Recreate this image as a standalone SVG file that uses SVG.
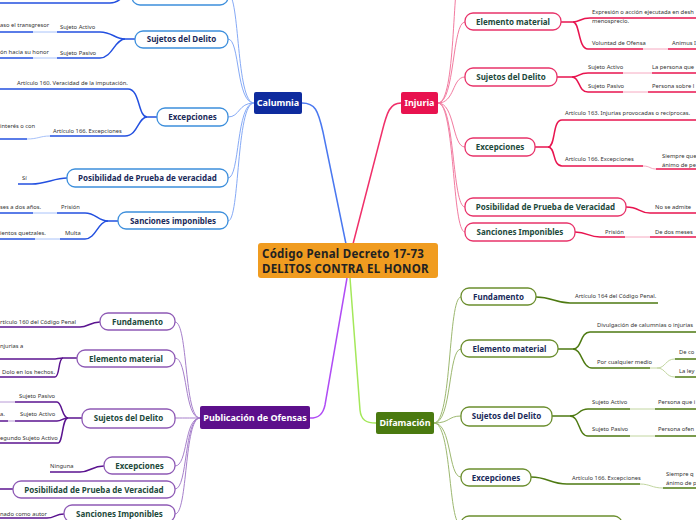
<svg xmlns="http://www.w3.org/2000/svg" width="696" height="520" viewBox="0 0 696 520">
<style>
.leaf{font-family:"Noto Sans","Liberation Sans",sans-serif;font-size:5.8px;fill:#333}
.sub{font-family:"Noto Sans","Liberation Sans",sans-serif;font-size:8px;font-weight:bold;text-anchor:middle}
.main{font-family:"Noto Sans","Liberation Sans",sans-serif;font-size:9px;font-weight:bold;fill:#fff;text-anchor:middle}
.ctr{font-family:"Noto Sans","Liberation Sans",sans-serif;font-size:11.5px;font-weight:bold;fill:#222;letter-spacing:0.25px}
.c{fill:none}
.bl{stroke:#4A78F0;stroke-width:1.5}
.bls{stroke:#86AAF6;stroke-width:1}
.bld{stroke:#2350E0;stroke-width:1.5}
.bll{stroke:#A8C2FA;stroke-width:1}
.pk{stroke:#F0306A;stroke-width:1.5}
.pks{stroke:#F27BA0;stroke-width:1}
.pkd{stroke:#E8144F;stroke-width:1.5}
.pkl{stroke:#F6A8C0;stroke-width:1}
.pu{stroke:#B04CF5;stroke-width:1.5}
.pus{stroke:#A67FCB;stroke-width:1}
.pud{stroke:#5B1490;stroke-width:1.5}
.pul{stroke:#B89AD6;stroke-width:1}
.gr{stroke:#A4E85A;stroke-width:1.5}
.grs{stroke:#9DB870;stroke-width:1}
.grd{stroke:#4E7A12;stroke-width:1.5}
.grl{stroke:#C2D6A0;stroke-width:1}
.sb{fill:#fff;stroke:#3D8FDC;stroke-width:1.3}
.sp{fill:#fff;stroke:#E8336A;stroke-width:1.3}
.sv{fill:#fff;stroke:#8E5AB5;stroke-width:1.3}
.sg{fill:#fff;stroke:#6B8E2E;stroke-width:1.3}
.tn{fill:#1A2A5A}
.tg{fill:#1D4A3C}
</style>
<g id="connectors" class="c">
<path class="bl" d="M346,244 L323,132 C318,110 315,103 302,103"/>
<path class="pk" d="M353,244 L382,132 C387,112 390,103 401,103"/>
<path class="pu" d="M347,278 L325,405 C323,415 318,418 310,418"/>
<path class="gr" d="M350,278 L360,410 C361,420 366,423 376,423"/>
<path class="bls" d="M254,103 C236,103 240,-6 228,-6"/>
<path class="bls" d="M254,103 C236,103 240,39 228,39"/>
<path class="bls" d="M254,103 C238,103 240,117 228,117"/>
<path class="bls" d="M254,103 C236,103 240,178 228,178"/>
<path class="bls" d="M254,103 C236,103 240,221 228,221"/>
<path class="bld" d="M132,-6 C120,-6 122,3 110,3 L0,3"/>
<path class="bld" d="M135,39 L125,39 C115,39 112,32 100,32 L57,32"/>
<path class="bll" d="M57,32 L33,32"/>
<path class="bld" d="M33,32 L0,32"/>
<path class="bld" d="M125,39 C115,39 112,58 100,58 L57,58"/>
<path class="bll" d="M57,58 L33,58"/>
<path class="bld" d="M33,58 L0,58"/>
<path class="bld" d="M157,117 L147,117 C138,117 140,89 128,89 L0,89"/>
<path class="bld" d="M147,117 C138,117 138,136 125,136 L50,136"/>
<path class="bll" d="M50,136 C40,136 38,139 27,139"/>
<path class="bld" d="M27,139 L0,139"/>
<path class="bld" d="M67,178 C55,178 45,184 32,184 L18,184"/>
<path class="bld" d="M118,221 L108,221 C98,221 96,213 85,213 L57,213"/>
<path class="bll" d="M57,213 L33,213"/>
<path class="bld" d="M33,213 L0,213"/>
<path class="bld" d="M108,221 C98,221 96,239 85,239 L60,239"/>
<path class="bll" d="M60,239 L35,239"/>
<path class="bld" d="M35,239 L0,239"/>
<path class="pks" d="M438,103 C456,103 452,-20 460,-30"/>
<path class="pks" d="M438,103 C455,103 452,22 465,22"/>
<path class="pks" d="M438,103 C455,103 452,77 465,77"/>
<path class="pks" d="M438,103 C455,103 452,147 465,147"/>
<path class="pks" d="M438,103 C455,103 452,207 465,207"/>
<path class="pks" d="M438,103 C455,103 452,232 465,232"/>
<path class="pkd" d="M561,22 L573,22 C580,22 580,18 590,18 L696,18"/>
<path class="pkd" d="M573,22 C580,22 578,49 588,49 L643,49"/>
<path class="pkl" d="M643,49 L668,49"/>
<path class="pkd" d="M668,49 L696,49"/>
<path class="pkd" d="M557,77 L572,77 C580,77 578,73 588,73 L623,73"/>
<path class="pkl" d="M623,73 L652,73"/>
<path class="pkd" d="M652,73 L696,73"/>
<path class="pkd" d="M572,77 C580,77 578,92 588,92 L623,92"/>
<path class="pkl" d="M623,92 L648,92"/>
<path class="pkd" d="M648,92 L696,92"/>
<path class="pkd" d="M535,147 L548,147 C556,147 552,120 562,120 L696,120"/>
<path class="pkd" d="M548,147 C556,147 552,166 562,166 L643,166"/>
<path class="pkl" d="M643,166 C650,166 650,169 656,169"/>
<path class="pkd" d="M656,169 L696,169"/>
<path class="pkd" d="M626,207 C640,207 638,213 650,213 L696,213"/>
<path class="pkd" d="M575,232 C588,232 588,237 600,237 L625,237"/>
<path class="pkl" d="M625,237 L650,237"/>
<path class="pkd" d="M650,237 L696,237"/>
<path class="pus" d="M200,418 C184,418 188,322 175,322"/>
<path class="pus" d="M200,418 C184,418 188,358 175,358"/>
<path class="pus" d="M200,418 C186,418 188,418 175,418"/>
<path class="pus" d="M200,418 C184,418 188,466 175,466"/>
<path class="pus" d="M200,418 C184,418 188,489 175,489"/>
<path class="pus" d="M200,418 C184,418 188,514 175,514"/>
<path class="pud" d="M100,322 C90,322 88,327 80,327 L0,327"/>
<path class="pud" d="M77,358 L63,358 C58,358 58,359 52,359 L0,359"/>
<path class="pud" d="M63,358 C58,358 60,377 55,377 L0,377"/>
<path class="pud" d="M82,418 L68,418 C62,418 62,402 57,402 L15,402"/>
<path class="pul" d="M15,402 L0,402"/>
<path class="pud" d="M68,418 C62,418 62,421 57,421 L15,421"/>
<path class="pul" d="M15,421 L8,421"/>
<path class="pud" d="M8,421 L0,421"/>
<path class="pud" d="M68,418 C62,418 63,443 58,443 L0,443"/>
<path class="pud" d="M104,466 C92,466 90,472 80,472 L50,472"/>
<path class="pud" d="M13,489 L0,489"/>
<path class="pud" d="M64,514 C55,514 55,518 47,518 L0,518"/>
<path class="grs" d="M434,423 C452,423 448,297 461,297"/>
<path class="grs" d="M434,423 C452,423 448,349 461,349"/>
<path class="grs" d="M434,423 C450,423 448,416 461,416"/>
<path class="grs" d="M434,423 C452,423 448,477 461,477"/>
<path class="grs" d="M434,423 C452,423 448,525 461,525"/>
<path class="grd" d="M536,297 C552,297 555,303 570,303 L658,303"/>
<path class="grd" d="M558,349 L573,349 C582,349 580,332 590,332 L696,332"/>
<path class="grd" d="M573,349 C582,349 582,368 592,368 L650,368"/>
<path class="grl" d="M650,368 L657,368"/>
<path class="grl" d="M657,368 C666,368 665,359 675,359"/>
<path class="grl" d="M657,368 C666,368 665,377 675,377"/>
<path class="grd" d="M675,359 L696,359"/>
<path class="grd" d="M675,377 L696,377"/>
<path class="grd" d="M552,416 L570,416 C580,416 578,409 588,409 L630,409"/>
<path class="grl" d="M630,409 L655,409"/>
<path class="grd" d="M655,409 L696,409"/>
<path class="grd" d="M570,416 C580,416 578,436 588,436 L630,436"/>
<path class="grl" d="M630,436 L655,436"/>
<path class="grd" d="M655,436 L696,436"/>
<path class="grd" d="M531,477 C548,477 550,484 567,484 L640,484"/>
<path class="grl" d="M640,484 C650,484 652,488 663,488"/>
<path class="grd" d="M663,488 L696,488"/>
</g>

<g id="central">
<rect x="258" y="243" width="180" height="35" rx="3" fill="#F09C20"/>
<text class="ctr" x="262" y="258">Código Penal Decreto 17-73</text>
<text class="ctr" x="262" y="272.5">DELITOS CONTRA EL HONOR</text>
</g>

<g id="calumnia">
<rect x="254" y="92" width="48" height="22" rx="2" fill="#0E2B9E"/>
<text class="main" x="278" y="106">Calumnia</text>
</g>
<g id="injuria">
<rect x="401" y="92" width="37" height="22" rx="2" fill="#E8124F"/>
<text class="main" x="419.5" y="106">Injuria</text>
</g>
<g id="publicacion">
<rect x="200" y="406" width="110" height="23" rx="2" fill="#5C0F8B"/>
<text class="main" x="255" y="421">Publicación de Ofensas</text>
</g>
<g id="difamacion">
<rect x="376" y="412" width="58" height="22" rx="2" fill="#4A7A10"/>
<text class="main" x="405" y="426">Difamación</text>
</g>

<g id="cal-top"><rect class="sb" x="132" y="-17" width="96" height="22" rx="8"/></g>
<g id="cal-sujetos"><rect class="sb" x="135" y="31" width="93" height="17" rx="8"/><text class="sub tn" x="181.5" y="42">Sujetos del Delito</text></g>
<g id="cal-excepciones"><rect class="sb" x="157" y="108" width="71" height="18" rx="8"/><text class="sub tn" x="192.5" y="120">Excepciones</text></g>
<g id="cal-posibilidad"><rect class="sb" x="67" y="169" width="161" height="18" rx="8"/><text class="sub tn" x="147.5" y="181">Posibilidad de Prueba de veracidad</text></g>
<g id="cal-sanciones"><rect class="sb" x="118" y="212" width="110" height="17" rx="8"/><text class="sub tn" x="173" y="224">Sanciones imponibles</text></g>

<g id="cal-leaves">
<text class="leaf" x="0" y="27">aso el transgresor</text>
<text class="leaf" x="60" y="29">Sujeto Activo</text>
<text class="leaf" x="0" y="54">ón hacia su honor</text>
<text class="leaf" x="60" y="55">Sujeto Pasivo</text>
<text class="leaf" x="17" y="85">Artículo 160. Veracidad de la imputación.</text>
<text class="leaf" x="0" y="128">interés o con</text>
<text class="leaf" x="53" y="133">Artículo 166. Excepciones</text>
<text class="leaf" x="22" y="180">Sí</text>
<text class="leaf" x="0" y="209">ses a dos años.</text>
<text class="leaf" x="61" y="209">Prisión</text>
<text class="leaf" x="0" y="235">ientos quetzales.</text>
<text class="leaf" x="65" y="235">Multa</text>
</g>

<g id="inj-elemento"><rect class="sp" x="465" y="13" width="96" height="17" rx="8"/><text class="sub tg" x="513" y="25">Elemento material</text></g>
<g id="inj-sujetos"><rect class="sp" x="465" y="68" width="92" height="18" rx="8"/><text class="sub tg" x="511" y="80">Sujetos del Delito</text></g>
<g id="inj-excepciones"><rect class="sp" x="465" y="138" width="70" height="18" rx="8"/><text class="sub tg" x="500" y="150">Excepciones</text></g>
<g id="inj-posibilidad"><rect class="sp" x="465" y="198" width="161" height="18" rx="8"/><text class="sub tg" x="545.5" y="210">Posibilidad de Prueba de Veracidad</text></g>
<g id="inj-sanciones"><rect class="sp" x="465" y="223" width="110" height="18" rx="8"/><text class="sub tg" x="520" y="235">Sanciones Imponibles</text></g>

<g id="inj-leaves">
<text class="leaf" x="592" y="14">Expresión o acción ejecutada en desh</text>
<text class="leaf" x="592" y="23">menosprecio.</text>
<text class="leaf" x="592" y="45">Voluntad de Ofensa</text>
<text class="leaf" x="672" y="45">Animus I</text>
<text class="leaf" x="588" y="69">Sujeto Activo</text>
<text class="leaf" x="652" y="69">La persona que</text>
<text class="leaf" x="588" y="88">Sujeto Pasivo</text>
<text class="leaf" x="652" y="88">Persona sobre l</text>
<text class="leaf" x="565" y="115">Artículo 163. Injurias provocadas o recíprocas.</text>
<text class="leaf" x="565" y="161">Artículo 166. Excepciones</text>
<text class="leaf" x="662" y="158">Siempre que</text>
<text class="leaf" x="662" y="167">ánimo de pe</text>
<text class="leaf" x="655" y="209">No se admite</text>
<text class="leaf" x="605" y="234">Prisión</text>
<text class="leaf" x="655" y="234">De dos meses</text>
</g>

<g id="pub-fundamento"><rect class="sv" x="100" y="313" width="75" height="17" rx="8"/><text class="sub tg" x="137.5" y="325">Fundamento</text></g>
<g id="pub-elemento"><rect class="sv" x="77" y="350" width="98" height="17" rx="8"/><text class="sub tg" x="126" y="362">Elemento material</text></g>
<g id="pub-sujetos"><rect class="sv" x="82" y="409" width="93" height="19" rx="8"/><text class="sub tg" x="128.5" y="421">Sujetos del Delito</text></g>
<g id="pub-excepciones"><rect class="sv" x="104" y="457" width="71" height="17" rx="8"/><text class="sub tg" x="139.5" y="469">Excepciones</text></g>
<g id="pub-posibilidad"><rect class="sv" x="13" y="481" width="162" height="17" rx="8"/><text class="sub tg" x="94" y="493">Posibilidad de Prueba de Veracidad</text></g>
<g id="pub-sanciones"><rect class="sv" x="64" y="505" width="111" height="17" rx="8"/><text class="sub tg" x="119.5" y="517">Sanciones Imponibles</text></g>

<g id="pub-leaves">
<text class="leaf" x="0" y="324">rtículo 160 del Código Penal</text>
<text class="leaf" x="0" y="348">njurias a</text>
<text class="leaf" x="2" y="374">Dolo en los hechos.</text>
<text class="leaf" x="19" y="398">Sujeto Pasivo</text>
<text class="leaf" x="0" y="416">a.</text>
<text class="leaf" x="20" y="416">Sujeto Activo</text>
<text class="leaf" x="0" y="440">egundo Sujeto Activo</text>
<text class="leaf" x="50" y="468">Ninguna</text>
<text class="leaf" x="0" y="516">nado como autor</text>
</g>

<g id="dif-fundamento"><rect class="sg" x="461" y="288" width="75" height="17" rx="8"/><text class="sub tn" x="498.5" y="300">Fundamento</text></g>
<g id="dif-elemento"><rect class="sg" x="461" y="340" width="97" height="17" rx="8"/><text class="sub tn" x="509.5" y="352">Elemento material</text></g>
<g id="dif-sujetos"><rect class="sg" x="461" y="407" width="91" height="19" rx="8"/><text class="sub tn" x="506.5" y="419">Sujetos del Delito</text></g>
<g id="dif-excepciones"><rect class="sg" x="461" y="469" width="70" height="17" rx="8"/><text class="sub tn" x="496" y="481">Excepciones</text></g>
<g id="dif-bottom"><rect class="sg" x="461" y="516" width="161" height="18" rx="8"/></g>

<g id="dif-leaves">
<text class="leaf" x="575" y="298">Artículo 164 del Código Penal.</text>
<text class="leaf" x="597" y="327">Divulgación de calumnias o injurias</text>
<text class="leaf" x="597" y="364">Por cualquier medio</text>
<text class="leaf" x="679" y="354">De co</text>
<text class="leaf" x="679" y="373">La ley</text>
<text class="leaf" x="592" y="404">Sujeto Activo</text>
<text class="leaf" x="658" y="404">Persona que i</text>
<text class="leaf" x="592" y="431">Sujeto Pasivo</text>
<text class="leaf" x="658" y="431">Persona ofen</text>
<text class="leaf" x="572" y="480">Artículo 166. Excepciones</text>
<text class="leaf" x="666" y="476">Siempre q</text>
<text class="leaf" x="666" y="485">ánimo de p</text>
</g>
</svg>
